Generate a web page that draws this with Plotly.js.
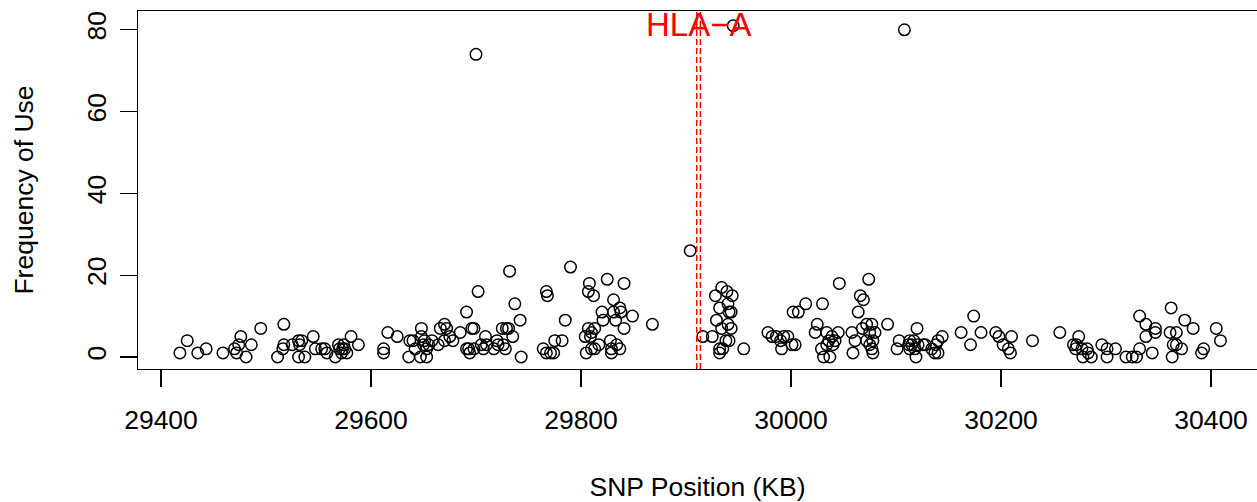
<!DOCTYPE html>
<html>
<head>
<meta charset="utf-8">
<script src="https://cdn.plot.ly/plotly-3.0.1.min.js"></script>
<style>html,body{margin:0;padding:0;background:#fff;}#chart{width:1257px;height:502px;}</style>
</head>
<body>
<div id="chart"></div>
<script>
// SNP positions (KB) and frequency of use
const snpPositionKb = [
29418,29425,29435,29443,29459,29470,29472,29474,29476,29481,29486,29495,29511,29516,29517,29517,29525,29531,29532,29534,29531,29537,29545,29547,29553,29556,29558,
29566,29569,29570,29572,29574,29575,29577,29573,29581,29588,29612,29612,29616,29625,29636,29637,29640,29642,29647,29648,29648,29650,29651,29653,29653,29655,29658,29664,29666,29670,29672,29670,29675,29678,29685,29691,29691,29693,29694,29696,29698,29700,29702,29698,29705,29707,29709,29710,29717,29720,29721,29725,29726,29728,29729,29731,29732,29735,29737,29742,29743,
29764,29767,29771,29774,29767,29768,29775,29782,29785,29790,29804,29805,29807,29808,29807,29809,29810,29812,29813,29810,29813,29817,29820,29821,29825,29831,29831,29833,29837,29838,29841,29841,29828,29829,29829,29834,29837,29849,29868,29904,
29916,29925,29934,29928,29939,29944,29932,29940,29941,29943,29929,29934,29940,29943,29941,29938,29935,29932,29932,29945,29955,29978,29982,29986,29990,29993,29991,29997,30001,30004,30002,30007,30014,30030,30025,30023,30034,30039,30045,30029,30036,30034,30040,30031,30037,30042,30046,30058,30061,30059,30064,30066,30069,30072,30074,
30077,30068,30075,30080,30072,30078,30075,30077,30078,30092,30101,30103,30108,30112,30113,30115,30117,30113,30118,30119,30120,30121,30126,30128,30134,30137,30140,30140,30144,30138,30162,30171,30174,30181,30195,30198,30202,30210,30207,30209,30230,
30256,30274,30269,30271,30272,30277,30278,30282,30283,30286,30296,30301,30301,30309,30319,30325,30329,30332,30332,30338,30338,30344,30347,30347,30362,30361,30363,30364,30367,30367,30372,30375,30383,30391,30393,30405,30409
];
const frequencyOfUse = [
1,4,1,2,1,2,1,3,5,0,3,7,0,2,3,8,3,4,3,4,0,0,5,2,2,2,1,
0,3,2,1,3,2,1,2,5,3,2,1,6,5,0,4,4,2,0,7,5,3,4,2,0,3,4,3,7,8,7,4,5,4,6,11,2,2,1,7,2,74,16,7,3,2,5,3,2,4,3,7,3,2,7,7,21,5,13,9,0,
2,1,1,1,16,15,4,4,9,22,5,1,7,18,16,5,6,15,7,2,2,3,11,9,19,14,11,9,12,11,18,7,4,2,1,3,2,10,8,26,
5,5,17,15,16,15,12,13,11,11,9,7,8,7,4,4,2,2,1,81,2,6,5,5,4,5,2,5,3,3,11,11,13,13,8,6,6,5,6,2,4,3,3,0,0,4,18,6,4,1,11,15,14,8,19,
8,7,6,6,4,4,3,2,1,8,2,4,80,3,4,3,4,2,2,0,7,3,3,3,2,1,1,4,5,3,6,3,10,6,6,5,3,5,2,1,4,
6,5,3,2,3,2,0,2,1,0,3,2,0,2,0,0,0,2,10,8,5,1,7,6,12,6,0,3,6,3,2,9,7,1,2,7,4
];
// HLA-A gene boundaries (KB) and label
const geneBoundsKb = [29910.2, 29913.7];
const geneLabel = ["HLA\u2212A"];
const xTicks = [29400, 29600, 29800, 30000, 30200, 30400];
const yTicks = [0, 20, 40, 60, 80];

const font = "Liberation Sans, Arial, Helvetica, sans-serif";

const trace = {
  type: "scatter", mode: "markers",
  x: snpPositionKb, y: frequencyOfUse,
  marker: {symbol: "circle-open", size: 11.5, color: "#000", line: {width: 1.5, color: "#000"}},
  hoverinfo: "x+y", showlegend: false, cliponaxis: false
};

const shapes = geneBoundsKb.map(x => ({
  type: "line", xref: "x", yref: "paper", x0: x, x1: x, y0: 0, y1: 1,
  line: {color: "#ff0000", width: 1.5, dash: "6px,3px"}
}));

const layout = {
  width: 1257, height: 502,
  margin: {l: 138, r: 0, t: 11, b: 133},
  paper_bgcolor: "#fff", plot_bgcolor: "#fff",
  font: {family: font, size: 26.5, color: "#000"},
  showlegend: false,
  xaxis: {
    range: [29378.1, 30443.8], tickvals: xTicks, ticktext: xTicks.map(String),
    showgrid: false, zeroline: false, showline: true, mirror: true, linecolor: "#000", linewidth: 1.3,
    ticks: "outside", ticklen: 17, tickwidth: 1.3, tickcolor: "#000",
    ticklabelstandoff: 10,
    tickfont: {size: 26.5, color: "#000"},
    title: {text: "SNP Position (KB)", font: {size: 26.5, color: "#000"}, standoff: 44},
    automargin: false
  },
  yaxis: {
    range: [-2.93, 84.6], tickvals: yTicks, ticktext: yTicks.map(String),
    showgrid: false, zeroline: false, showline: true, mirror: false, linecolor: "#000", linewidth: 1.3,
    ticks: "outside", ticklen: 17, tickwidth: 1.3, tickcolor: "#000",
    tickangle: -90, ticklabelstandoff: 3,
    tickfont: {size: 26.5, color: "#000"},
    title: {text: "Frequency of Use", font: {size: 26.5, color: "#000"}, standoff: 40},
    automargin: false
  },
  shapes: shapes,
  annotations: [{
    x: (geneBoundsKb[0] + geneBoundsKb[1]) / 2, y: 81.4, xref: "x", yref: "y",
    text: geneLabel[0], showarrow: false, xanchor: "center", yanchor: "middle",
    font: {family: font, size: 33, color: "#ff0000"}
  }]
};

Plotly.newPlot("chart", [trace], layout, {displayModeBar: false, staticPlot: true});
</script>
</body>
</html>
